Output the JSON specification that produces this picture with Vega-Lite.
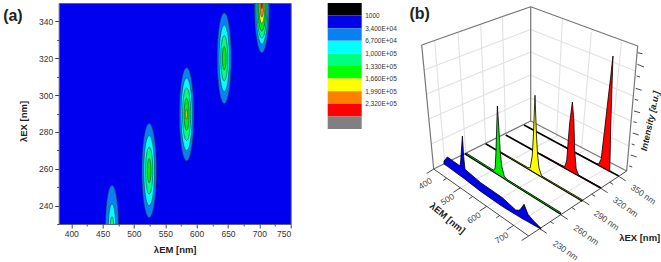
{
"$schema":"https://vega.github.io/schema/vega-lite/v6.json",
"padding":{"left":1.7,"top":2,"right":0,"bottom":0},
"spacing":37,
"bounds":"flush",
"background":"white",
"resolve":{"scale":{"color":"independent","size":"independent"}},
"config":{"font":"Liberation Sans","view":{"stroke":null}},
"hconcat":[
{
"width":232,"height":221,
"view":{"fill":"#0000f0","stroke":"#666666"},
"encoding":{
"x":{"field":"em","type":"quantitative","scale":{"domain":[380,750],"nice":false,"zero":false},
"axis":{"title":"λEM [nm]","values":[400,425,450,475,500,525,550,575,600,625,650,675,700,725,750],"labelExpr":"datum.value%50==0?datum.label:''","labelOverlap":false,"grid":false,"domain":false,"tickSize":{"expr":"datum.value%50==0?4:2"},"tickColor":"#444444","labelFontSize":8.5,"labelColor":"#333333","labelPadding":2,"titleFontSize":9.5,"titleFontWeight":"bold","titleColor":"#222222","titlePadding":6}},
"y":{"field":"ex","type":"quantitative","scale":{"domain":[230,350],"nice":false,"zero":false},
"axis":{"title":"λEX [nm]","values":[230,240,250,260,270,280,290,300,310,320,330,340],"labelExpr":"datum.value%20==0?datum.label:''","labelOverlap":false,"grid":false,"domain":false,"tickSize":{"expr":"datum.value%20==0?4:2"},"tickColor":"#444444","labelFontSize":8.5,"labelColor":"#333333","labelPadding":2,"titleFontSize":9.5,"titleFontWeight":"bold","titleColor":"#222222","titlePadding":10,"titleY":118}}
},
"layer":[
{
"data":{"values":[
{"em":465,"ex":228,"halfSpan":23,"level":34000},
{"em":465,"ex":228,"halfSpan":13,"level":67000},
{"em":465,"ex":228,"halfSpan":6,"level":100000},
{"em":524.3,"ex":259,"halfSpan":25.5,"level":34000},
{"em":524.3,"ex":259,"halfSpan":19,"level":67000},
{"em":524.3,"ex":259,"halfSpan":12.7,"level":100000},
{"em":524.3,"ex":259,"halfSpan":6.6,"level":133000},
{"em":584,"ex":289.6,"halfSpan":25.3,"level":34000},
{"em":584,"ex":289.6,"halfSpan":19.7,"level":67000},
{"em":584,"ex":289.6,"halfSpan":14.3,"level":100000},
{"em":584,"ex":289.6,"halfSpan":8.7,"level":133000},
{"em":584,"ex":289.6,"halfSpan":2.7,"level":166000},
{"em":644,"ex":320,"halfSpan":24.6,"level":34000},
{"em":644,"ex":320,"halfSpan":18,"level":67000},
{"em":644,"ex":320,"halfSpan":12.3,"level":100000},
{"em":644,"ex":320,"halfSpan":6.4,"level":133000},
{"em":704,"ex":349,"halfSpan":26,"level":34000},
{"em":704,"ex":349,"halfSpan":21.4,"level":67000},
{"em":704,"ex":349,"halfSpan":18,"level":100000},
{"em":704,"ex":349,"halfSpan":14.2,"level":133000},
{"em":704,"ex":349,"halfSpan":10.2,"level":166000},
{"em":704,"ex":349,"halfSpan":6.6,"level":199000},
{"em":704,"ex":349,"halfSpan":2,"level":232000}
]},
"mark":{"type":"point","filled":true,"opacity":1,"clip":true,"stroke":"#123a5c","strokeWidth":0.6,"shape":"M0,-1 C0.085,-1 0.154,-0.552 0.154,0 C0.154,0.552 0.085,1 0,1 C-0.085,1 -0.154,0.552 -0.154,0 C-0.154,-0.552 -0.085,-1 0,-1 Z"},
"encoding":{
"size":{"field":"halfSpan","type":"quantitative","scale":{"type":"pow","exponent":2,"domain":[0,30],"range":[0,12215]},"legend":null},
"color":{"field":"level","type":"nominal","scale":{"domain":[34000,67000,100000,133000,166000,199000,232000],"range":["#0a80f0","#00ffff","#00ff80","#00f000","#ffff00","#ff8000","#ff0000"]},"legend":null}
}
},
{
"data":{"values":[{"em":307,"ex":343,"t":"(a)"}]},
"mark":{"type":"text","fontSize":16,"fontWeight":"bold","color":"#222222"},
"encoding":{"text":{"field":"t"}}
}
]
},
{
"width":34,"height":126,
"data":{"values":[
{"low":-32000,"high":1000,"level":"a"},
{"low":1000,"high":34000,"level":"b"},
{"low":34000,"high":67000,"level":"c"},
{"low":67000,"high":100000,"level":"d"},
{"low":100000,"high":133000,"level":"e"},
{"low":133000,"high":166000,"level":"f"},
{"low":166000,"high":199000,"level":"g"},
{"low":199000,"high":232000,"level":"h"},
{"low":232000,"high":265000,"level":"i"},
{"low":265000,"high":298000,"level":"j"}
]},
"mark":{"type":"rect"},
"encoding":{
"y":{"field":"low","type":"quantitative","scale":{"domain":[-32000,298000],"nice":false,"zero":false,"reverse":true},
"axis":{"orient":"right","title":null,"values":[1000,34000,67000,100000,133000,166000,199000,232000],"labelExpr":"{'1000':'1000','34000':'3,400E+04','67000':'6,700E+04','100000':'1,000E+05','133000':'1,330E+05','166000':'1,660E+05','199000':'1,990E+05','232000':'2,320E+05'}[datum.value+'']","labelOverlap":false,"grid":false,"domain":false,"ticks":false,"labelFontSize":6.5,"labelColor":"#333333","labelPadding":3}},
"y2":{"field":"high"},
"color":{"field":"level","type":"nominal","scale":{"domain":["a","b","c","d","e","f","g","h","i","j"],"range":["#000000","#0000e6","#0a80f0","#00ffff","#00ff80","#00ff00","#ffff00","#ff8000","#ff0000","#808080"]},"legend":null}
}
},
{
"width":263,"height":260,
"encoding":{
"x":{"field":"u","type":"quantitative","scale":{"domain":[398,661],"nice":false,"zero":false},"axis":null},
"y":{"field":"v","type":"quantitative","scale":{"domain":[2,262],"nice":false,"zero":false,"reverse":true},"axis":null}
},
"layer":[
{"data":{"values":[
{"u":434,"v":39.3,"u2":444,"v2":162.6},{"u":457.3,"v":31.7,"u2":465,"v2":152.2},{"u":480,"v":24.3,"u2":485,"v2":142.3},{"u":501.7,"v":16.7,"u2":505,"v2":132.4},
{"u":561.7,"v":18.3,"u2":556,"v2":133.5},{"u":590.7,"v":30.7,"u2":581,"v2":146.6},{"u":620.7,"v":40.7,"u2":609,"v2":161},
{"u":430.6,"v":143,"u2":530,"v2":97},{"u":428,"v":118,"u2":530,"v2":74},{"u":425.8,"v":93,"u2":530,"v2":51},{"u":423.4,"v":69,"u2":530,"v2":28.5},
{"u":530,"v":97,"u2":628,"v2":145},{"u":530,"v":74,"u2":630.4,"v2":120},{"u":530,"v":51,"u2":632.6,"v2":95},{"u":530,"v":28.5,"u2":634.8,"v2":70},
{"u":459.7,"v":186.8,"u2":557.4,"v2":134.3},{"u":486,"v":205.4,"u2":584.9,"v2":148.6},{"u":513,"v":224.4,"u2":612.3,"v2":162.9}
]},
"mark":{"type":"rule","color":"#e2e2e2","strokeWidth":1.1},
"encoding":{"x2":{"field":"u2"},"y2":{"field":"v2"}}},
{"data":{"values":[
{"u":530,"v":5.7,"u2":530,"v2":120},{"u":421,"v":44,"u2":530,"v2":5.7},{"u":530,"v":5.7,"u2":637,"v2":45},{"u":421,"v":44,"u2":433,"v2":168},{"u":637,"v":45,"u2":626,"v2":170},{"u":433,"v":168,"u2":530,"v2":120},{"u":530,"v":120,"u2":626,"v2":170}
]},
"mark":{"type":"rule","color":"#777777","strokeWidth":1.2},
"encoding":{"x2":{"field":"u2"},"y2":{"field":"v2"}}},
{"data":{"values":[
{"u":433,"v":168,"u2":528,"v2":235},{"u":528,"v":235,"u2":626,"v2":170},
{"u":433,"v":168,"u2":426,"v2":172.5},{"u":446,"v":177.2,"u2":442.5,"v2":179.5},{"u":459.7,"v":186.8,"u2":452.7,"v2":191.3},{"u":472,"v":195.5,"u2":468.5,"v2":197.8},{"u":486,"v":205.4,"u2":479,"v2":209.9},{"u":499,"v":214.6,"u2":495.5,"v2":216.9},{"u":513,"v":224.4,"u2":506,"v2":228.9},{"u":528,"v":235,"u2":521,"v2":239.5},
{"u":539,"v":227.7,"u2":546,"v2":232.2},{"u":549.5,"v":220.5,"u2":553,"v2":222.7},{"u":560,"v":213.8,"u2":567,"v2":218.3},{"u":571,"v":206.5,"u2":574.5,"v2":208.7},{"u":581.7,"v":199.4,"u2":588.7,"v2":203.9},{"u":591,"v":193.2,"u2":594.5,"v2":195.4},{"u":600,"v":187.2,"u2":607,"v2":191.7},{"u":609,"v":181.2,"u2":612.5,"v2":183.4},{"u":618,"v":175.3,"u2":625,"v2":179.8},
{"u":637,"v":51.7,"u2":641.7,"v2":52.7},{"u":636.7,"v":63.3,"u2":643.3,"v2":66},{"u":636,"v":75,"u2":639.3,"v2":76},{"u":635,"v":87.3,"u2":641,"v2":89.3},{"u":634,"v":98.3,"u2":637.3,"v2":99.3},{"u":633.3,"v":110,"u2":639.3,"v2":111.7},{"u":632.7,"v":120.7,"u2":636,"v2":121.7},{"u":632,"v":132,"u2":638,"v2":134},{"u":631,"v":143,"u2":634,"v2":144},{"u":630,"v":154,"u2":636,"v2":156},{"u":628.5,"v":165,"u2":631.5,"v2":166}
]},
"mark":{"type":"rule","color":"#333333","strokeWidth":0.9},
"encoding":{"x2":{"field":"u2"},"y2":{"field":"v2"}}},
{"data":{"values":[
{"u":464.3,"v":152.7,"u2":560,"v2":213},{"u":485,"v":142.7,"u2":581.7,"v2":200},{"u":505,"v":134,"u2":600,"v2":187},{"u":523.3,"v":124,"u2":618,"v2":175}
]},
"mark":{"type":"rule","color":"#000000","strokeWidth":1.6},
"encoding":{"x2":{"field":"u2"},"y2":{"field":"v2"}}},
{"data":{"values":[
{"ser":"350","u":560,"v":143.4,"v0":143.8},{"ser":"350","u":595,"v":162.3,"v0":162.6},{"ser":"350","u":598,"v":163,"v0":164.2},{"ser":"350","u":600.5,"v":158,"v0":165.6},{"ser":"350","u":602,"v":145,"v0":166.4},{"ser":"350","u":604,"v":128,"v0":167.5},{"ser":"350","u":606,"v":110,"v0":168.6},{"ser":"350","u":609,"v":84,"v0":170.4},{"ser":"350","u":609.5,"v":80,"v0":150},{"ser":"350","u":610,"v":76,"v0":128},{"ser":"350","u":611,"v":66,"v0":95},{"ser":"350","u":612.3,"v":55,"v0":55},
{"ser":"320","u":540,"v":152.9,"v0":153.5},{"ser":"320","u":560,"v":163.9,"v0":164.7},{"ser":"320","u":564,"v":165.5,"v0":166.9},{"ser":"320","u":566,"v":160,"v0":168},{"ser":"320","u":567.5,"v":140,"v0":168.9},{"ser":"320","u":569,"v":122,"v0":169.7},{"ser":"320","u":571.7,"v":101,"v0":171.2},{"ser":"320","u":573.2,"v":120,"v0":172},{"ser":"320","u":574,"v":150,"v0":172.5},{"ser":"320","u":575.5,"v":168,"v0":173.3},{"ser":"320","u":578,"v":174.2,"v0":174.8},{"ser":"320","u":600,"v":186.4,"v0":187},
{"ser":"290","u":500,"v":150.9,"v0":151.6},{"ser":"290","u":527,"v":166.5,"v0":167.6},{"ser":"290","u":529.5,"v":167,"v0":169},{"ser":"290","u":531.5,"v":155,"v0":170.2},{"ser":"290","u":532.7,"v":135,"v0":170.9},{"ser":"290","u":534.3,"v":94.3,"v0":171.9},{"ser":"290","u":535.8,"v":135,"v0":172.8},{"ser":"290","u":537,"v":155,"v0":173.5},{"ser":"290","u":538.3,"v":167,"v0":174.3},{"ser":"290","u":541,"v":175,"v0":175.9},{"ser":"290","u":581.7,"v":198.8,"v0":200},
{"ser":"260","u":466,"v":152.3,"v0":153.8},{"ser":"260","u":493,"v":169.3,"v0":170.8},{"ser":"260","u":494.5,"v":167,"v0":171.8},{"ser":"260","u":495.3,"v":150,"v0":172.3},{"ser":"260","u":496.7,"v":105,"v0":173.2},{"ser":"260","u":498,"v":125,"v0":174},{"ser":"260","u":499.5,"v":150,"v0":175},{"ser":"260","u":501,"v":165,"v0":175.9},{"ser":"260","u":503.5,"v":175,"v0":177.5},{"ser":"260","u":506,"v":178.3,"v0":179.7},{"ser":"260","u":560,"v":211.5,"v0":213},
{"ser":"230","u":443.3,"v":160,"v0":163},{"ser":"230","u":446.7,"v":156,"v0":165.3},{"ser":"230","u":459.3,"v":165,"v0":174.6},{"ser":"230","u":460,"v":160,"v0":175},{"ser":"230","u":461.7,"v":135,"v0":176.3},{"ser":"230","u":463,"v":156,"v0":177.2},{"ser":"230","u":464.3,"v":168.3,"v0":178.2},{"ser":"230","u":480,"v":181.7,"v0":190.4},{"ser":"230","u":501.7,"v":196.7,"v0":205.5},{"ser":"230","u":515,"v":209,"v0":213.6},{"ser":"230","u":518.3,"v":209.3,"v0":215.6},{"ser":"230","u":520,"v":208,"v0":216.7},{"ser":"230","u":523.3,"v":203.3,"v0":218.6},{"ser":"230","u":527.3,"v":213.3,"v0":220.8},{"ser":"230","u":532,"v":219,"v0":223.5},{"ser":"230","u":540,"v":227,"v0":228}
]},
"mark":{"type":"area","stroke":"#000000","strokeWidth":0.8,"interpolate":"linear","opacity":1},
"encoding":{"y2":{"field":"v0"},
"color":{"field":"ser","type":"nominal","sort":null,"scale":{"domain":["350","320","290","260","230"],"range":["#ff0000","#ff0000","#ffff00","#00ee00","#0000e6"]},"legend":null}}},
{"data":{"values":[{"u":424.5,"v":182.5,"t":"400"},{"u":446.7,"v":198.3,"t":"500"},{"u":473.3,"v":216.7,"t":"600"},{"u":501,"v":236.7,"t":"700"}]},
"mark":{"type":"text","angle":-32,"fontSize":8.5,"color":"#444444"},
"encoding":{"text":{"field":"t"}}},
{"data":{"values":[{"u":642.7,"v":193.3,"t":"350 nm"},{"u":625,"v":206,"t":"320 nm"},{"u":606,"v":219.3,"t":"290 nm"},{"u":585.7,"v":234,"t":"260 nm"},{"u":565,"v":249.3,"t":"230 nm"}]},
"mark":{"type":"text","angle":35,"fontSize":8.5,"color":"#444444"},
"encoding":{"text":{"field":"t"}}},
{"data":{"values":[{"u":446.7,"v":217.3,"t":"λEM [nm]"}]},
"mark":{"type":"text","angle":40,"fontSize":9.5,"fontWeight":"bold","color":"#222222"},
"encoding":{"text":{"field":"t"}}},
{"data":{"values":[{"u":639,"v":236.7,"t":"λEX [nm]"}]},
"mark":{"type":"text","fontSize":9.5,"fontWeight":"bold","color":"#222222"},
"encoding":{"text":{"field":"t"}}},
{"data":{"values":[{"u":649.5,"v":120,"t":"Intensity [a.u.]"}]},
"mark":{"type":"text","angle":-78,"fontSize":9,"fontWeight":"bold","fontStyle":"italic","color":"#222222"},
"encoding":{"text":{"field":"t"}}},
{"data":{"values":[{"u":419,"v":13,"t":"(b)"}]},
"mark":{"type":"text","fontSize":16,"fontWeight":"bold","color":"#222222"},
"encoding":{"text":{"field":"t"}}}
]
}
]
}
